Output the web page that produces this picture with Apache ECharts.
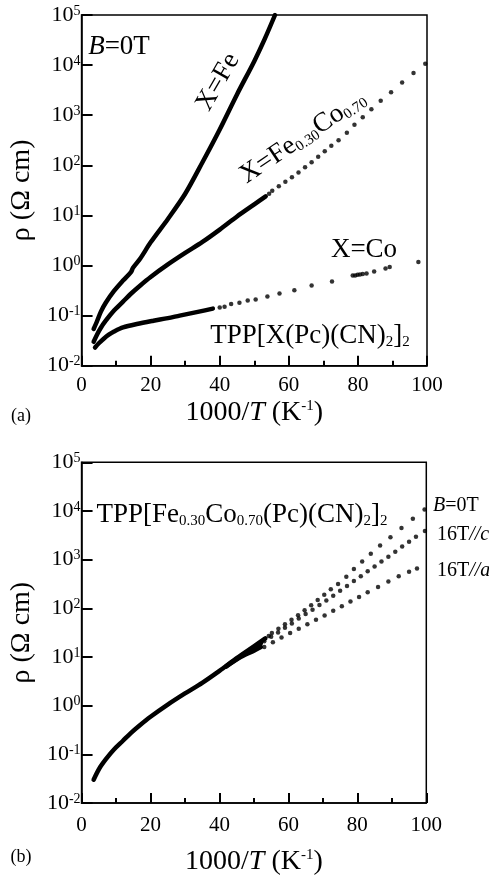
<!DOCTYPE html>
<html>
<head>
<meta charset="utf-8">
<script src="https://cdn.jsdelivr.net/npm/echarts@6/dist/echarts.min.js"></script>
<style>
html, body { margin: 0; padding: 0; background: #fff; }
#chart { width: 489px; height: 877px; }
</style>
</head>
<body>
<div id="chart"></div>
<script>
// (a) B = 0T : [1000/T, rho (ohm cm)]
const feLine = [
  [3.5, 0.054], [4.5, 0.078], [5.6, 0.12], [7, 0.18], [9.4, 0.31], [12, 0.50],
  [14.3, 0.74], [14.9, 0.90], [17, 1.38], [20, 2.9], [25, 8.5], [30, 27],
  [35, 115], [40, 520], [45, 2600], [50, 12000], [53, 33000], [56, 100000]
]
const feCoLine = [
  [3.5, 0.030], [4.5, 0.042], [5.5, 0.056], [7, 0.079], [9.4, 0.126], [12, 0.19],
  [14.2, 0.27], [17, 0.40], [20, 0.59], [25, 1.05], [30, 1.78], [35, 2.95],
  [40, 5.2], [45, 9.5], [50, 16.6], [53.3, 24]
]
const feCoDots = [
  [54.3, 27], [55.2, 31], [57.1, 38], [59.0, 47], [60.9, 58], [62.8, 72], [64.7, 91],
  [66.6, 115], [68.5, 148], [70.4, 191], [72.3, 245], [74.4, 316], [76.8, 447],
  [79.0, 646], [81.4, 912], [83.9, 1320], [86.6, 1950], [89.6, 2880], [92.8, 4470],
  [96.1, 6920], [99.5, 10700]
]
const coLine = [
  [3.9, 0.023], [5, 0.028], [6.5, 0.035], [8, 0.042], [9.4, 0.048], [12, 0.058],
  [16, 0.068], [20.8, 0.079], [25, 0.089], [28.4, 0.10], [34, 0.12], [38, 0.138]
]
const coDots = [
  [40.0, 0.145], [41.4, 0.151], [43.3, 0.17], [45.7, 0.18], [48.1, 0.20], [50.4, 0.21],
  [53.8, 0.24], [57.3, 0.275], [61.6, 0.32], [66.6, 0.40], [72.5, 0.48], [78.5, 0.63],
  [79.2, 0.63], [79.9, 0.65], [80.6, 0.66], [81.4, 0.68], [82.5, 0.69], [84.7, 0.76],
  [88.0, 0.87], [89.2, 0.93], [97.5, 1.17]
]

// (b) Fe0.30Co0.70 in field
const cLine = [[42, 6.5], [46, 10.2], [50, 15.5], [52, 19]]
const cDots = [
  [53, 21], [55, 26], [57, 32], [59, 40], [61, 49], [63, 62], [65, 76], [67, 93],
  [69, 117], [71, 145], [73, 182], [75, 229], [77, 288], [79, 363], [81, 457],
  [83, 575], [85, 724], [87, 912], [89, 1150], [91, 1445], [93, 1862], [95, 2344],
  [97, 2951], [99.6, 3890]
]
const aLine = [[42, 6.4], [46, 9.8], [50, 13.5], [52, 16]]
const aDots = [
  [53, 16], [55.5, 20], [58, 25], [60.5, 31], [63, 38], [65.5, 47], [68, 58],
  [70.5, 71], [73, 89], [75.5, 110], [78, 138], [80.5, 170], [83, 214], [86, 275],
  [89, 355], [92, 457], [95, 562], [97.3, 660]
]

const serif = 'Liberation Serif, Times New Roman, serif'
const black = '#000'

const chart = echarts.init(document.getElementById('chart'))

function xAxis (grid) {
  return {
    gridIndex: grid,
    type: 'value',
    position: 'bottom',
    min: 0,
    max: 100,
    interval: 20,
    axisLine: { show: true, onZero: false, lineStyle: { color: black, width: 1.5 } },
    axisTick: { show: true, inside: true, length: 10, lineStyle: { color: black, width: 2 } },
    minorTick: { show: true, splitNumber: 2, length: 5, lineStyle: { color: black, width: 2 } },
    splitLine: { show: false },
    name: '{n|1000/}{i|T}{n| (K}{s|-1}{n|)}',
    nameLocation: 'middle',
    nameGap: grid === 0 ? 33 : 45,
    nameTextStyle: {
      rich: {
        n: { fontFamily: serif, fontSize: 28, color: black },
        i: { fontFamily: serif, fontSize: 28, fontStyle: 'italic', color: black },
        s: { fontFamily: serif, fontSize: 15, color: black, verticalAlign: 'top' }
      }
    },
    axisLabel: { fontFamily: serif, fontSize: 21, color: black, margin: grid === 0 ? 9 : 12 }
  }
}

function yAxis (grid) {
  return {
    gridIndex: grid,
    type: 'log',
    min: 0.01,
    max: 100000,
    splitNumber: 7,
    axisLine: { show: true, onZero: false, lineStyle: { color: black, width: 1.5 } },
    axisTick: { show: true, inside: true, length: 11, lineStyle: { color: black, width: 2 } },
    splitLine: { show: false },
    name: 'ρ (Ω cm)',
    nameLocation: 'middle',
    nameRotate: 90,
    nameGap: 33,
    nameTextStyle: { fontFamily: serif, fontSize: 28, color: black },
    axisLabel: {
      margin: 1,
      formatter: v => '{b|10}{s|' + Math.round(Math.log10(v)) + '}',
      rich: {
        b: { fontFamily: serif, fontSize: 22, color: black },
        s: { fontFamily: serif, fontSize: 14, color: black, verticalAlign: 'top' }
      }
    }
  }
}

function line (xi, yi, data) {
  return {
    type: 'line', xAxisIndex: xi, yAxisIndex: yi, data: data,
    symbol: 'none', smooth: 0.3, silent: true,
    lineStyle: { color: black, width: 4.5, cap: 'round', join: 'round' }
  }
}

function dots (xi, yi, data) {
  return {
    type: 'scatter', xAxisIndex: xi, yAxisIndex: yi, data: data,
    symbol: 'circle', symbolSize: 4.5, silent: true,
    itemStyle: { color: black }
  }
}

const txt = (x, y, text, size, rot, extra) => ({
  type: 'text', x: x, y: y, rotation: (rot || 0) * Math.PI / 180,
  style: Object.assign({
    text: text, fontFamily: serif, fontSize: size, fill: black,
    align: 'center', verticalAlign: 'middle'
  }, extra || {})
})

const richBig = {
  n: { fontFamily: serif, fontSize: 27, color: black },
  i: { fontFamily: serif, fontSize: 27, fontStyle: 'italic', color: black },
  s: { fontFamily: serif, fontSize: 15, color: black, verticalAlign: 'bottom' }
}
const richSmall = {
  n: { fontFamily: serif, fontSize: 20, color: black },
  i: { fontFamily: serif, fontSize: 20, fontStyle: 'italic', color: black }
}

const frame = { show: true, borderColor: black, borderWidth: 1.5, backgroundColor: 'transparent' }

chart.setOption({
  animation: false,
  backgroundColor: '#fff',
  grid: [
    Object.assign({ left: 76.5, top: 15, width: 350.5, height: 350.7 }, frame),
    Object.assign({ left: 76.3, top: 462.3, width: 350, height: 348.5 }, frame)
  ],
  xAxis: [xAxis(0), xAxis(1)],
  yAxis: [yAxis(0), yAxis(1)],
  series: [
    line(0, 0, feLine),
    line(0, 0, feCoLine),
    dots(0, 0, feCoDots),
    line(0, 0, coLine),
    dots(0, 0, coDots),
    line(1, 1, feCoLine),
    dots(1, 1, feCoDots),
    line(1, 1, cLine),
    dots(1, 1, cDots),
    line(1, 1, aLine),
    dots(1, 1, aDots)
  ],
  graphic: [
    txt(119, 47, '{i|B}{n|=0T}', 25, 0, { rich: richBig }),
    txt(218, 82, 'X=Fe', 27, 60),
    txt(303, 137, '{n|X=Fe}{s|0.30}{n|Co}{s|0.70}', 27, 34, { rich: richBig }),
    txt(364, 250, 'X=Co', 27, 0),
    txt(310, 336, '{n|TPP[X(Pc)(CN)}{s|2}{n|]}{s|2}', 27, 0, { rich: richBig }),
    txt(21, 416, '(a)', 18, 0),
    txt(242, 515, '{n|TPP[Fe}{s|0.30}{n|Co}{s|0.70}{n|(Pc)(CN)}{s|2}{n|]}{s|2}', 27, 0, { rich: richBig }),
    txt(433, 506, '{i|B}{n|=0T}', 20, 0, { rich: richSmall, align: 'left' }),
    txt(437, 535, '{n|16T}{i|//c}', 20, 0, { rich: richSmall, align: 'left' }),
    txt(437, 571, '{n|16T}{i|//a}', 20, 0, { rich: richSmall, align: 'left' }),
    txt(21, 857, '(b)', 18, 0)
  ]
})
</script>
</body>
</html>
